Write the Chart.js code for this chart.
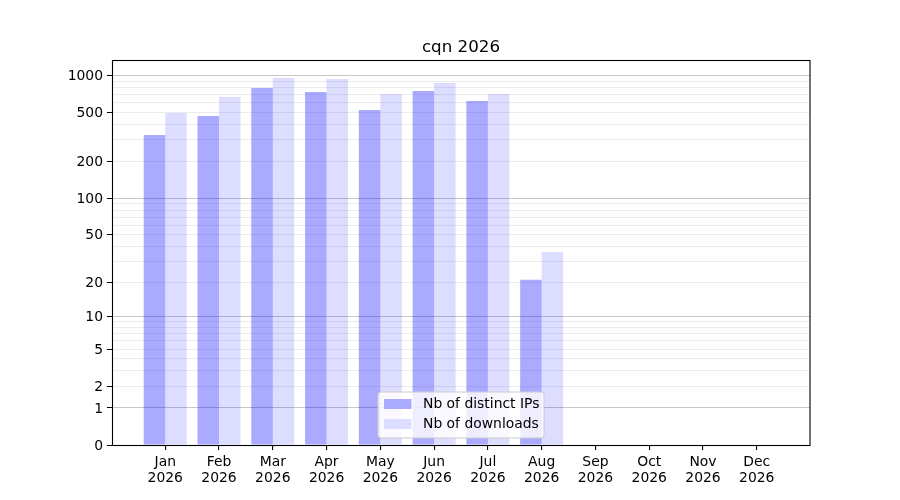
<!DOCTYPE html>
<html>
<head>
<meta charset="utf-8">
<script src="https://cdn.jsdelivr.net/npm/chart.js@4.4.1/dist/chart.umd.min.js"></script>
<style>
  html, body { margin: 0; padding: 0; background: #fff; }
  #wrap { width: 900px; height: 500px; position: relative; }
</style>
</head>
<body>
<div id="wrap"><canvas id="c"></canvas></div>
<script>
// ---- data ----
const TITLE = 'cqn 2026';
const YEAR = '2026';
const MONTHS = ['Jan','Feb','Mar','Apr','May','Jun','Jul','Aug','Sep','Oct','Nov','Dec'];
const DISTINCT_IPS = [329, 470, 794, 737, 526, 751, 623, 21, 0, 0, 0, 0];
const DOWNLOADS    = [497, 671, 958, 940, 710, 872, 710, 36, 0, 0, 0, 0];
const SERIES_NAMES = ['Nb of distinct IPs', 'Nb of downloads'];
const Y_LABELED = [0, 1, 2, 5, 10, 20, 50, 100, 200, 500, 1000];
const Y_MAJOR_GRID = [1, 10, 100, 1000];
const Y_MINOR = [2,3,4,5,6,7,8,9,20,30,40,50,60,70,80,90,200,300,400,500,600,700,800,900];
const Y_MAX = 1340;

// ---- custom log(1+x) scale ----
const tf = v => Math.log10(1 + Math.max(0, v));
const itf = t => Math.pow(10, t) - 1;
class Log1pScale extends Chart.LinearScale {
  buildTicks() {
    const vals = Array.from(new Set(Y_LABELED.concat(Y_MINOR))).sort((a,b)=>a-b);
    return vals.filter(v => v >= this.min && v <= this.max).map(v => ({ value: v }));
  }
  getPixelForValue(v) {
    const a = tf(this.min), b = tf(this.max);
    return this.getPixelForDecimal((tf(v) - a) / (b - a));
  }
  getValueForPixel(p) {
    const a = tf(this.min), b = tf(this.max);
    return itf(a + this.getDecimalForPixel(p) * (b - a));
  }
}
Log1pScale.id = 'log1p';
Log1pScale.defaults = Chart.LinearScale.defaults;
Chart.register(Log1pScale);

const FONT = { family: 'DejaVu Sans', size: 13.9 };
const COLORS = ['rgba(0,0,255,0.333)', 'rgba(0,0,255,0.135)'];

const framePlugin = {
  id: 'frameLegendTitle',
  afterDraw(chart) {
    const ctx = chart.ctx, a = chart.chartArea;
    ctx.save();
    // frame
    ctx.strokeStyle = '#000';
    ctx.lineWidth = 1.1;
    ctx.strokeRect(Math.round(a.left) + 0.5, Math.round(a.top) + 0.5,
                   Math.round(a.right - a.left) - 0.5, Math.round(a.bottom - a.top));
    // title
    ctx.fillStyle = '#000';
    ctx.font = '16.7px "DejaVu Sans"';
    ctx.textAlign = 'center';
    ctx.textBaseline = 'alphabetic';
    ctx.fillText(TITLE, (a.left + a.right) / 2, a.top - 8.5);
    // legend
    const lx = a.left + 266, ly = a.top + 332, lw = 166, lh = 46, r = 3;
    ctx.beginPath();
    ctx.moveTo(lx + r, ly);
    ctx.arcTo(lx + lw, ly, lx + lw, ly + lh, r);
    ctx.arcTo(lx + lw, ly + lh, lx, ly + lh, r);
    ctx.arcTo(lx, ly + lh, lx, ly, r);
    ctx.arcTo(lx, ly, lx + lw, ly, r);
    ctx.closePath();
    ctx.fillStyle = 'rgba(255,255,255,0.8)';
    ctx.fill();
    ctx.strokeStyle = '#cccccc';
    ctx.lineWidth = 1;
    ctx.stroke();
    ctx.font = '13.9px "DejaVu Sans"';
    ctx.textAlign = 'left';
    ctx.textBaseline = 'middle';
    SERIES_NAMES.forEach((name, i) => {
      const py = ly + 7 + i * 20;
      ctx.fillStyle = '#fff';
      ctx.fillRect(lx + 6, py, 27.5, 10);
      ctx.fillStyle = COLORS[i];
      ctx.fillRect(lx + 6, py, 27.5, 10);
      ctx.fillStyle = '#000';
      ctx.fillText(name, lx + 45, py + 5.5);
    });
    ctx.restore();
  }
};

new Chart(document.getElementById('c'), {
  type: 'bar',
  data: {
    datasets: [
      { label: SERIES_NAMES[0], data: DISTINCT_IPS.map((v, i) => ({ x: i, y: v })),
        backgroundColor: COLORS[0], borderWidth: 0, categoryPercentage: 0.8, barPercentage: 1.0 },
      { label: SERIES_NAMES[1], data: DOWNLOADS.map((v, i) => ({ x: i, y: v })),
        backgroundColor: COLORS[1], borderWidth: 0, categoryPercentage: 0.8, barPercentage: 1.0 }
    ]
  },
  options: {
    responsive: true,
    maintainAspectRatio: false,
    animation: false,
    devicePixelRatio: 1,
    layout: { padding: { left: 52, right: 90, top: 60, bottom: 0 } },
    plugins: { legend: { display: false }, title: { display: false }, tooltip: { enabled: false } },
    scales: {
      x: {
        type: 'linear',
        min: -0.99, max: 11.99,
        offset: false,
        afterBuildTicks(s) { s.ticks = MONTHS.map((_, i) => ({ value: i })); },
        afterFit(s) { s.height = 55; },
        border: { display: false },
        grid: { offset: false, drawOnChartArea: false, drawTicks: true, tickLength: 5, tickColor: '#000', color: '#000', lineWidth: 1.1 },
        ticks: {
          autoSkip: false, maxRotation: 0, minRotation: 0, padding: 4,
          color: '#000', font: Object.assign({ lineHeight: 1.17 }, FONT),
          callback: v => [MONTHS[v], YEAR]
        }
      },
      y: {
        type: 'log1p',
        min: 0, max: Y_MAX,
        afterFit(s) { s.width = 60; },
        border: { display: false },
        grid: {
          lineWidth: 1,
          tickLength: 5,
          color: c => {
            const v = c.tick ? c.tick.value : null;
            if (v === 0) return 'rgba(0,0,0,0)';
            return Y_MAJOR_GRID.includes(v) ? 'rgba(0,0,0,0.22)' : 'rgba(0,0,0,0.075)';
          },
          tickColor: c => (c.tick && Y_LABELED.includes(c.tick.value)) ? '#000' : 'rgba(0,0,0,0)'
        },
        ticks: {
          autoSkip: false, padding: 4, labelOffset: 1, color: '#000', font: FONT,
          callback: v => Y_LABELED.includes(v) ? String(v) : ''
        }
      }
    }
  },
  plugins: [framePlugin]
});
</script>
</body>
</html>
